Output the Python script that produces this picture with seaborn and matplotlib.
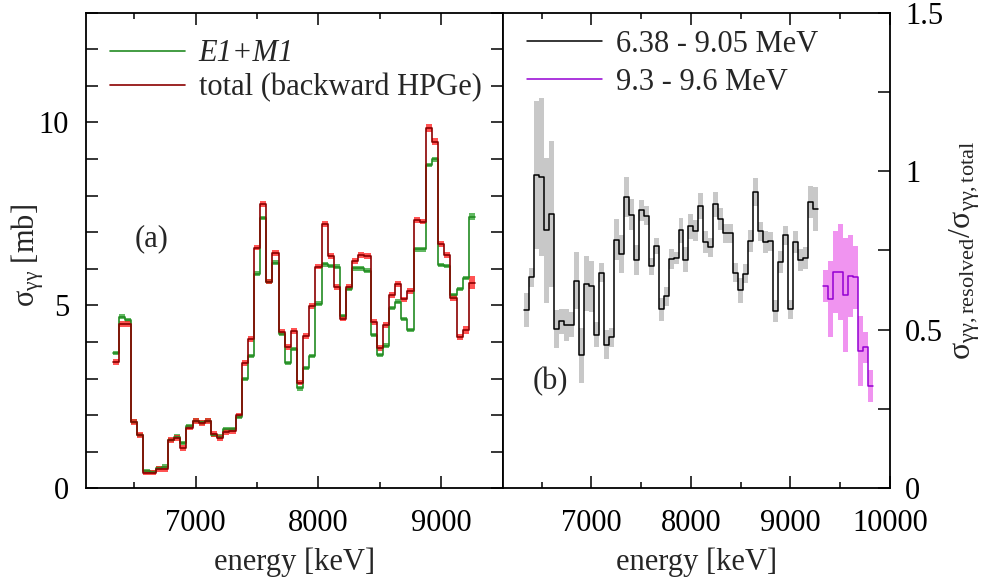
import numpy as np
import matplotlib
matplotlib.use("Agg")
import matplotlib.pyplot as plt
from matplotlib.lines import Line2D
from matplotlib.ticker import MultipleLocator, FuncFormatter
import seaborn as sns

# ---- data -------------------------------------------------------------
# bin centres [keV], 50 keV wide bins
energy = [6350, 6400, 6450, 6500, 6550, 6600, 6650, 6700, 6750, 6800,
          6850, 6900, 6950, 7000, 7050, 7100, 7150, 7200, 7250, 7300,
          7350, 7400, 7450, 7500, 7550, 7600, 7650, 7700, 7750, 7800,
          7850, 7900, 7950, 8000, 8050, 8100, 8150, 8200, 8250, 8300,
          8350, 8400, 8450, 8500, 8550, 8600, 8650, 8700, 8750, 8800,
          8850, 8900, 8950, 9000, 9050, 9100, 9150, 9200, 9250]

# sigma_gg [mb], E1+M1 part
sigma_e1m1 = [3.69, 4.69, 4.60, 1.82, 1.46, 0.47, 0.45, 0.56, 0.59, 1.32,
              1.41, 1.23, 1.69, 1.85, 1.80, 1.85, 1.46, 1.41, 1.61, 1.61,
              1.94, 2.98, 3.62, 5.87, 7.38, 5.65, 6.17, 4.21, 3.42, 3.80,
              2.73, 3.28, 3.62, 5.05, 6.12, 6.08, 6.06, 4.71, 5.46, 6.01,
              6.01, 5.95, 4.19, 3.64, 3.90, 4.92, 5.10, 4.63, 4.33, 6.53,
              6.53, 8.83, 8.99, 6.10, 6.08, 5.28, 5.44, 5.74, 7.42]
err_e1m1 = [0.06] * 58 + [0.10]

# sigma_gg [mb], total (backward HPGe)
sigma_total = [3.46, 4.49, 4.49, 1.82, 1.46, 0.43, 0.43, 0.52, 0.52, 1.32,
               1.37, 1.11, 1.66, 1.84, 1.78, 1.85, 1.48, 1.38, 1.53, 1.57,
               1.99, 3.42, 4.07, 6.58, 7.76, 5.65, 6.44, 4.26, 3.87, 4.30,
               2.89, 4.16, 4.98, 6.06, 7.22, 6.35, 5.51, 4.64, 5.49, 6.22,
               6.38, 6.36, 4.54, 3.83, 4.46, 5.28, 5.58, 5.16, 5.40, 7.33,
               7.29, 9.85, 9.47, 6.68, 6.38, 5.19, 4.14, 4.33, 5.62]
err_total = [0.08] * 51 + [0.10, 0.10, 0.08, 0.08, 0.08, 0.08, 0.10, 0.18]

# resolved / total ratio, 6.38 - 9.05 MeV
ratio_low = [0.563, 0.665, 0.988, 0.982, 0.813, 0.865, 0.502, 0.526, 0.516, 0.516,
             0.655, 0.419, 0.645, 0.637, 0.484, 0.679, 0.453, 0.477, 0.784, 0.740,
             0.919, 0.863, 0.721, 0.877, 0.860, 0.700, 0.765, 0.565, 0.605, 0.723,
             0.726, 0.813, 0.721, 0.826, 0.812, 0.890, 0.776, 0.760, 0.895, 0.848,
             0.805, 0.805, 0.679, 0.624, 0.677, 0.779, 0.935, 0.811, 0.777, 0.779,
             0.558, 0.713, 0.798, 0.565, 0.776, 0.719, 0.726, 0.902, 0.881]
err_low = [0.054, 0.030, 0.234, 0.250, 0.230, 0.230, 0.060, 0.040, 0.050, 0.040,
           0.090, 0.087, 0.087, 0.080, 0.040, 0.030, 0.045, 0.030, 0.064, 0.060,
           0.064, 0.050, 0.047, 0.033, 0.030, 0.027, 0.025, 0.036, 0.030, 0.032,
           0.020, 0.040, 0.040, 0.040, 0.033, 0.040, 0.035, 0.030, 0.040, 0.035,
           0.030, 0.030, 0.030, 0.040, 0.030, 0.035, 0.045, 0.030, 0.035, 0.030,
           0.035, 0.035, 0.030, 0.030, 0.035, 0.035, 0.035, 0.050, 0.070]

# resolved / total ratio, 9.3 - 9.6 MeV
energy_high = [9350, 9400, 9450, 9500, 9550, 9600, 9650, 9700, 9750, 9800]
ratio_high = [0.637, 0.598, 0.682, 0.682, 0.609, 0.669, 0.665, 0.432, 0.444, 0.323]
err_high = [0.05, 0.12, 0.13, 0.15, 0.18, 0.13, 0.10, 0.11, 0.05, 0.05]

BIN = 50.0

# ---- style ------------------------------------------------------------
sns.set_theme(style="ticks")
plt.rcParams.update({
    "font.family": ["Liberation Serif", "DejaVu Serif"],
    "font.size": 22,
    "axes.labelsize": 22,
    "legend.fontsize": 22,
    "mathtext.fontset": "custom",
    "mathtext.rm": "Liberation Serif",
    "mathtext.it": "Liberation Serif:italic",
    "axes.linewidth": 1.3,
    "axes.edgecolor": "black",
    "xtick.color": "black",
    "ytick.color": "black",
    "xtick.labelsize": 22,
    "ytick.labelsize": 22,
})


def stairs_xy(centres, values):
    c = np.asarray(centres, dtype=float)
    v = np.asarray(values, dtype=float)
    edges = np.append(c - BIN / 2, c[-1] + BIN / 2)
    return edges, np.append(v, v[-1])


def draw_hist(ax, centres, values, errors, line_color, band_color, band_alpha, lw=1.2):
    x, y = stairs_xy(centres, values)
    _, e = stairs_xy(centres, errors)
    ax.fill_between(x, y - e, y + e, step="post", color=band_color,
                    alpha=band_alpha, linewidth=0)
    sns.lineplot(x=x, y=y, ax=ax, color=line_color, lw=lw,
                 drawstyle="steps-post", estimator=None, sort=False)


fig = plt.figure(figsize=(9.86, 5.81), dpi=100)
ax1 = fig.add_axes([0.0869, 0.1596, 0.4229, 0.8186])
ax2 = fig.add_axes([0.5098, 0.1596, 0.3928, 0.8186])

# ---- (a) cross sections ---------------------------------------------
draw_hist(ax1, energy, sigma_e1m1, err_e1m1, "#228b22", "#2ca02c", 0.75)
draw_hist(ax1, energy, sigma_total, err_total, "#8b0000", "#ff1a1a", 0.75)

ax1.set_xlim(6105, 9500)
ax1.set_ylim(0, 13)
ax1.xaxis.set_major_locator(MultipleLocator(1000))
ax1.xaxis.set_minor_locator(MultipleLocator(500))
ax1.yaxis.set_major_locator(MultipleLocator(5))
ax1.yaxis.set_minor_locator(MultipleLocator(1))
ax1.tick_params(which="both", direction="in", top=True, right=True,
                bottom=True, left=True, width=1.1)
ax1.tick_params(axis="x", which="major", length=8.6, pad=15)
ax1.tick_params(axis="x", which="minor", length=4.3)
ax1.tick_params(axis="y", which="both", length=8.6, pad=12)
ax1.set_xlabel("energy [keV]")
ax1.xaxis.set_label_coords(0.5, -0.124)
ax1.set_ylabel(r"$\mathrm{\sigma_{\gamma\gamma}}$ [mb]")
ax1.yaxis.set_label_coords(-0.095, 0.49)
ax1.text(0.159, 0.524, "(a)", transform=ax1.transAxes, ha="center", va="center")

leg1 = ax1.legend(
    handles=[Line2D([], [], color="#228b22", lw=1.2),
             Line2D([], [], color="#8b0000", lw=1.2)],
    labels=["E1+M1", "total (backward HPGe)"],
    loc="upper left", bbox_to_anchor=(0.0, 0.995), frameon=False,
    handlelength=2.45, handletextpad=0.45, labelspacing=0.15,
    borderaxespad=0.4)
leg1.get_texts()[0].set_style("italic")

# ---- (b) resolved fraction ------------------------------------------
draw_hist(ax2, energy, ratio_low, err_low, "black", "#c8c8c8", 1.0, lw=1.1)
draw_hist(ax2, energy_high, ratio_high, err_high, "#9400d3", "#ee82ee", 0.85, lw=1.1)

ax2.set_xlim(6108, 10000)
ax2.set_ylim(0, 1.5)
ax2.xaxis.set_major_locator(MultipleLocator(1000))
ax2.xaxis.set_minor_locator(MultipleLocator(500))
ax2.yaxis.set_major_locator(MultipleLocator(0.5))
ax2.yaxis.set_minor_locator(MultipleLocator(0.25))
ax2.yaxis.set_major_formatter(FuncFormatter(lambda v, _: f"{v:g}"))
ax2.yaxis.tick_right()
ax2.yaxis.set_label_position("right")
ax2.tick_params(which="both", direction="in", top=True, bottom=True,
                right=True, left=False, labelleft=False, labelright=True, width=1.1)
ax2.tick_params(axis="x", which="major", length=8.6, pad=15)
ax2.tick_params(axis="x", which="minor", length=4.3)
ax2.tick_params(axis="y", which="both", length=8.6, pad=11)
ax2.set_xlabel("energy [keV]")
ax2.xaxis.set_label_coords(0.5, -0.124)
ax2.set_ylabel(r"$\mathrm{\sigma_{\gamma\gamma,resolved}/\sigma_{\gamma\gamma,total}}$",
               fontsize=23)
ax2.yaxis.set_label_coords(1.148, 0.5)
ax2.text(0.122, 0.2235, "(b)", transform=ax2.transAxes, ha="center", va="center")

ax2.legend(
    handles=[Line2D([], [], color="black", lw=1.1),
             Line2D([], [], color="#9400d3", lw=1.1)],
    labels=["6.38 - 9.05 MeV", "9.3 - 9.6 MeV"],
    loc="upper left", bbox_to_anchor=(0.0, 1.015), frameon=False,
    handlelength=2.45, handletextpad=0.45, labelspacing=0.3,
    borderaxespad=0.4)

fig.savefig("out.png", dpi=100)
